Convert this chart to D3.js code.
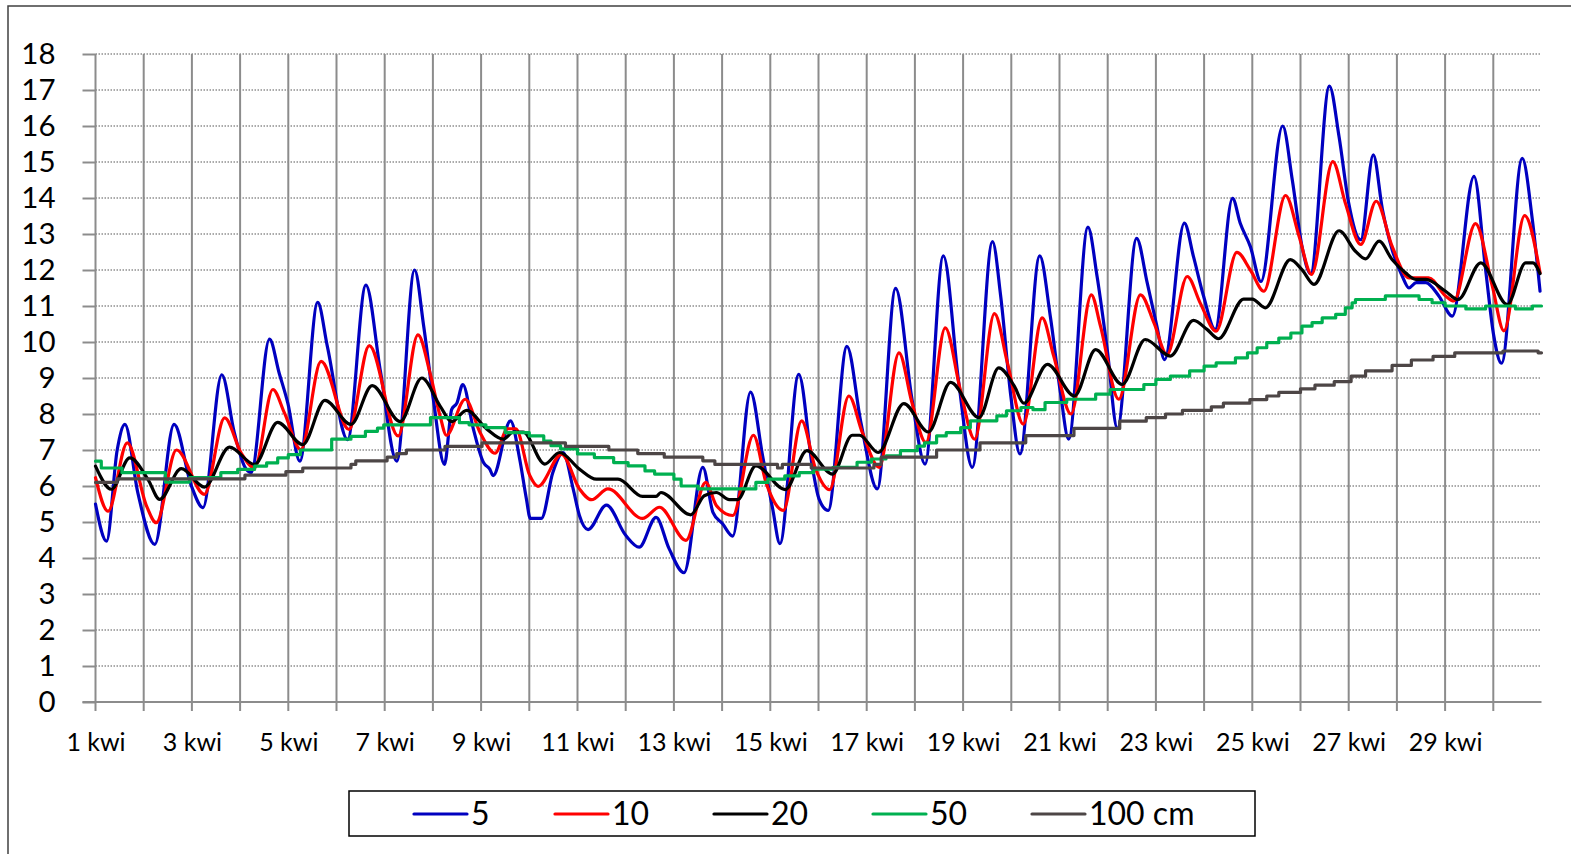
<!DOCTYPE html>
<html>
<head>
<meta charset="utf-8">
<script src="https://cdn.jsdelivr.net/npm/d3@7"></script>
<style>
  html, body { margin: 0; padding: 0; background: #fff; }
  svg { display: block; }
  text { font-family: Lato, "Open Sans", sans-serif; fill: #000; }
</style>
</head>
<body>
<svg id="chart" width="1571" height="854"></svg>
<script>
// ---- DATA (t = days since 1 Apr 00:00, value = soil temperature °C) ----
const seriesNames = ["5", "10", "20", "50", "100 cm"];
const seriesColors = ["#0000C0", "#FF0000", "#000000", "#00B050", "#4D4646"];

const t5 = [0,0.23,0.45,0.61,0.88,1.23,1.63,1.99,2.23,2.62,2.88,3.09,3.23,3.61,3.81,3.99,4.24,4.61,4.81,5.23,5.61,5.91,6.25,6.62,6.81,7.01,7.24,7.39,7.5,7.62,7.84,8.05,8.18,8.25,8.61,8.8,8.94,9.02,9.25,9.49,9.7,9.91,10.04,10.22,10.6,11.0,11.28,11.63,11.9,12.21,12.6,12.81,13.01,13.22,13.59,13.84,14.05,14.2,14.59,14.88,15.01,15.2,15.59,15.88,16.22,16.6,16.94,17.21,17.59,17.91,18.19,18.61,18.78,18.99,19.18,19.59,19.81,20.02,20.19,20.59,20.78,20.99,21.2,21.6,21.82,22.02,22.18,22.59,22.78,22.99,23.23,23.59,23.75,23.96,24.18,24.63,24.83,25.03,25.21,25.6,25.8,26.0,26.25,26.51,26.7,26.9,27.11,27.25,27.4,27.6,27.87,28.15,28.6,28.84,29.01,29.17,29.6,29.81,29.97];
const v5 = [5.5,4.47,7.0,7.71,5.8,4.38,7.71,6.0,5.4,9.09,7.48,6.55,6.37,10.08,9.14,8.3,6.69,11.1,9.88,7.29,11.58,9.2,6.69,12.0,10.43,8.4,6.6,8.13,8.31,8.82,7.58,6.65,6.47,6.29,7.81,6.75,5.64,5.1,5.1,6.38,6.93,5.92,5.18,4.79,5.47,4.63,4.3,5.13,4.26,3.59,6.52,5.27,4.95,4.61,8.61,6.84,5.36,4.4,9.1,6.47,5.64,5.32,9.88,7.76,5.92,11.49,8.41,6.61,12.39,8.87,6.52,12.79,11.27,8.5,6.89,12.39,10.71,8.59,7.3,13.19,11.82,9.79,7.6,12.88,11.64,10.44,9.51,13.3,12.37,11.27,10.35,13.99,13.3,12.65,11.68,16.0,14.5,12.66,11.9,17.11,15.7,13.86,12.84,15.2,13.68,12.57,11.83,11.5,11.65,11.65,11.28,10.72,14.6,12.01,10.17,9.41,15.1,13.4,11.41];

const t10 = [0,0.26,0.66,1.06,1.26,1.68,2.26,2.68,3.02,3.3,3.68,3.92,4.26,4.68,5.26,5.68,6.28,6.69,6.94,7.15,7.28,7.67,7.98,8.29,8.55,8.72,9.01,9.18,9.67,10.04,10.29,10.63,11.35,11.7,12.25,12.66,12.88,13.22,13.65,13.91,14.27,14.65,14.94,15.23,15.63,15.91,16.26,16.67,16.94,17.23,17.63,17.94,18.24,18.65,18.92,19.25,19.64,19.88,20.24,20.66,20.85,21.23,21.68,21.96,22.23,22.65,22.92,23.25,23.68,23.96,24.24,24.69,24.97,25.23,25.67,25.93,26.25,26.57,26.9,27.25,27.66,28.01,28.18,28.63,28.98,29.22,29.65,29.97];
const v10 = [6.23,5.3,7.2,5.44,4.98,7.0,5.77,7.89,6.92,6.5,8.68,8.03,7.01,9.46,7.57,9.9,7.39,10.2,9.14,7.94,7.41,8.41,7.48,6.91,7.59,7.59,6.29,5.99,6.88,5.92,5.62,5.92,5.1,5.41,4.49,6.1,5.46,5.18,7.41,6.1,5.32,7.81,6.47,5.9,8.5,7.48,6.52,9.7,8.31,7.21,10.39,8.68,7.3,10.79,9.42,7.72,10.67,9.61,8.0,11.31,10.44,8.41,11.31,10.53,9.65,11.82,11.08,10.3,12.49,12.0,11.41,14.07,12.94,11.88,15.01,13.86,12.71,13.91,12.66,11.78,11.78,11.28,11.14,13.29,11.55,10.31,13.51,11.92];

const t20 = [0,0.33,0.71,1.09,1.33,1.78,2.26,2.78,3.3,3.78,4.3,4.76,5.3,5.74,6.32,6.77,7.15,7.39,7.7,8.12,8.46,8.67,8.87,9.32,9.63,10.04,10.39,10.84,11.35,11.63,11.73,12.35,12.63,12.88,13.15,13.32,13.7,14.31,14.76,15.29,15.7,15.85,16.24,16.77,17.28,17.74,18.33,18.74,19.06,19.26,19.75,20.31,20.75,21.3,21.78,22.3,22.78,23.06,23.3,23.82,24.0,24.27,24.79,25.03,25.28,25.8,26.14,26.35,26.63,26.9,27.18,27.39,27.6,28.01,28.27,28.74,29.29,29.67,29.82,29.97];
const v20 = [6.55,5.91,6.78,6.18,5.63,6.48,5.97,7.08,6.6,7.77,7.15,8.38,7.71,8.79,7.79,9.0,8.22,7.79,8.1,7.58,7.3,7.5,7.5,6.61,6.93,6.47,6.19,6.19,5.71,5.71,5.82,5.2,5.73,5.82,5.62,5.62,6.56,5.9,6.98,6.33,7.41,7.41,6.93,8.29,7.5,8.88,7.9,9.28,8.78,8.3,9.38,8.5,9.79,8.82,10.07,9.61,10.6,10.35,10.09,11.19,11.19,10.95,12.29,12.01,11.6,13.09,12.52,12.31,12.8,12.29,11.92,11.74,11.74,11.41,11.18,12.2,11.04,12.2,12.2,11.9];

const t50 = [0,0.12,0.55,1.45,1.95,2.6,2.95,3.3,3.55,3.78,4.0,4.25,4.9,5.3,5.6,5.85,5.98,6.95,7.55,7.75,8.1,8.5,9.0,9.3,9.45,9.65,10.0,10.35,10.75,11.05,11.4,11.6,12.0,12.15,12.5,13.7,13.95,14.3,14.6,14.9,15.3,15.8,16.1,16.4,16.7,17.05,17.2,17.45,17.65,17.95,18.15,18.7,18.9,19.2,19.45,19.7,20.15,20.75,21.05,21.75,22.0,22.3,22.7,23.0,23.25,23.65,23.9,24.1,24.3,24.55,24.8,25.03,25.24,25.45,25.73,25.93,26.07,26.14,26.76,27.46,27.73,28.0,28.43,28.84,29.46,29.81,30];
const v50 = [6.69,6.5,6.37,6.11,6.23,6.37,6.46,6.55,6.64,6.78,6.87,7.0,7.3,7.38,7.52,7.61,7.7,7.9,7.76,7.7,7.62,7.48,7.39,7.25,7.12,7.03,6.89,6.79,6.65,6.56,6.42,6.33,6.19,6.0,5.92,6.1,6.19,6.28,6.37,6.47,6.52,6.66,6.75,6.84,6.98,7.11,7.2,7.39,7.48,7.62,7.81,7.95,8.09,8.18,8.12,8.32,8.41,8.55,8.68,8.82,8.96,9.05,9.2,9.33,9.42,9.56,9.7,9.84,9.98,10.11,10.25,10.44,10.54,10.67,10.77,10.95,11.09,11.18,11.28,11.18,11.09,11.0,10.92,11.0,10.92,11.0,11.0];

const t100 = [0,0.45,3.1,3.95,4.3,5.3,5.4,6.05,6.25,6.45,7.25,8.02,9.75,10.65,11.25,11.8,12.6,12.85,14.15,14.25,14.85,16.15,16.3,17.45,18.35,19.3,20.3,21.25,21.8,22.2,22.55,23.15,23.4,23.95,24.3,24.55,25.0,25.3,25.7,26.05,26.35,26.9,27.3,27.75,28.2,29.2,29.93,30];
const v100 = [6.1,6.2,6.3,6.4,6.5,6.6,6.7,6.8,6.9,7.0,7.1,7.2,7.1,7.0,6.9,6.8,6.7,6.6,6.5,6.6,6.5,6.6,6.8,7.0,7.2,7.4,7.6,7.8,7.9,8.0,8.1,8.2,8.3,8.4,8.5,8.6,8.7,8.8,8.9,9.05,9.2,9.35,9.5,9.6,9.7,9.75,9.7,9.7];

const yTicks = [0,1,2,3,4,5,6,7,8,9,10,11,12,13,14,15,16,17,18];
const dayTicks = [0,1,2,3,4,5,6,7,8,9,10,11,12,13,14,15,16,17,18,19,20,21,22,23,24,25,26,27,28,29];
const dayLabels = ["1 kwi","3 kwi","5 kwi","7 kwi","9 kwi","11 kwi","13 kwi","15 kwi","17 kwi","19 kwi","21 kwi","23 kwi","25 kwi","27 kwi","29 kwi"];
const labelDays = [0,2,4,6,8,10,12,14,16,18,20,22,24,26,28];

// ---- DRAW ----
const svg = d3.select("#chart");
const x = d3.scaleLinear().domain([0, 30]).range([95.5, 1541.5]);
const y = d3.scaleLinear().domain([0, 18]).range([702, 54]);
const gridColor = "#8c8c8c";

// outer border
svg.append("rect").attr("x", 8).attr("y", 6).attr("width", 1575).attr("height", 860)
  .attr("fill", "#fff").attr("stroke", "#404040").attr("stroke-width", 1.5);

// horizontal dotted gridlines
svg.append("g").selectAll("line").data(yTicks.filter(v => v > 0)).join("line")
  .attr("x1", x(0)).attr("x2", x(30)).attr("y1", d => y(d)).attr("y2", d => y(d))
  .attr("stroke", "#8f8f8f").attr("stroke-width", 1.5).attr("stroke-dasharray", "1.5 1.5");

// vertical gridlines (one per day) incl. tick below axis
svg.append("g").selectAll("line").data(dayTicks).join("line")
  .attr("x1", d => x(d)).attr("x2", d => x(d)).attr("y1", y(18)).attr("y2", y(0) + 9)
  .attr("stroke", gridColor).attr("stroke-width", 2);

// y axis via d3 axis (ticks to the left, labels)
const yAxis = d3.axisLeft(y).tickValues(yTicks).tickSize(13).tickPadding(27).tickFormat(d3.format("d"));
const gy = svg.append("g").attr("transform", `translate(${x(0)},0)`).call(yAxis);
gy.select(".domain").remove();
gy.selectAll(".tick line").attr("stroke", gridColor).attr("stroke-width", 2);
gy.selectAll(".tick text").attr("font-size", 29.5).attr("font-family", "Lato").attr("fill", "#000");

// x axis line
svg.append("line").attr("x1", x(0) - 13).attr("x2", x(30)).attr("y1", y(0)).attr("y2", y(0))
  .attr("stroke", gridColor).attr("stroke-width", 2);

// x labels
const xAxis = d3.axisBottom(x).tickValues(labelDays).tickSize(0).tickPadding(49)
  .tickFormat((d, i) => dayLabels[i]);
const gx = svg.append("g").attr("transform", `translate(0,${y(0)})`).call(xAxis);
gx.select(".domain").remove();
gx.selectAll(".tick text").attr("font-size", 25).attr("font-family", "Lato").attr("fill", "#000")
  .attr("dy", "0");

// series
const series = [
  {t: t5, v: v5, curve: d3.curveMonotoneX},
  {t: t10, v: v10, curve: d3.curveMonotoneX},
  {t: t20, v: v20, curve: d3.curveMonotoneX},
  {t: t50, v: v50, curve: d3.curveStepAfter},
  {t: t100, v: v100, curve: d3.curveStepAfter}
];
series.forEach((s, i) => {
  const pts = s.t.map((tt, k) => [tt, s.v[k]]);
  const line = d3.line().x(d => x(d[0])).y(d => y(d[1])).curve(s.curve);
  svg.append("path").datum(pts).attr("d", line)
    .attr("fill", "none").attr("stroke", seriesColors[i]).attr("stroke-width", 3.2)
    .attr("stroke-linejoin", "round").attr("stroke-linecap", "round");
});

// legend
const lg = svg.append("g");
lg.append("rect").attr("x", 349).attr("y", 791).attr("width", 906).attr("height", 45)
  .attr("fill", "#fff").attr("stroke", "#000").attr("stroke-width", 1.5);
const legX = [414, 555, 714, 873, 1032];
seriesNames.forEach((n, i) => {
  lg.append("line").attr("x1", legX[i]).attr("x2", legX[i] + 53).attr("y1", 814).attr("y2", 814)
    .attr("stroke", seriesColors[i]).attr("stroke-width", 3.2).attr("stroke-linecap", "round");
  lg.append("text").attr("x", legX[i] + 57).attr("y", 825).attr("font-size", 32)
    .attr("font-family", "Lato").text(n);
});
</script>
</body>
</html>
